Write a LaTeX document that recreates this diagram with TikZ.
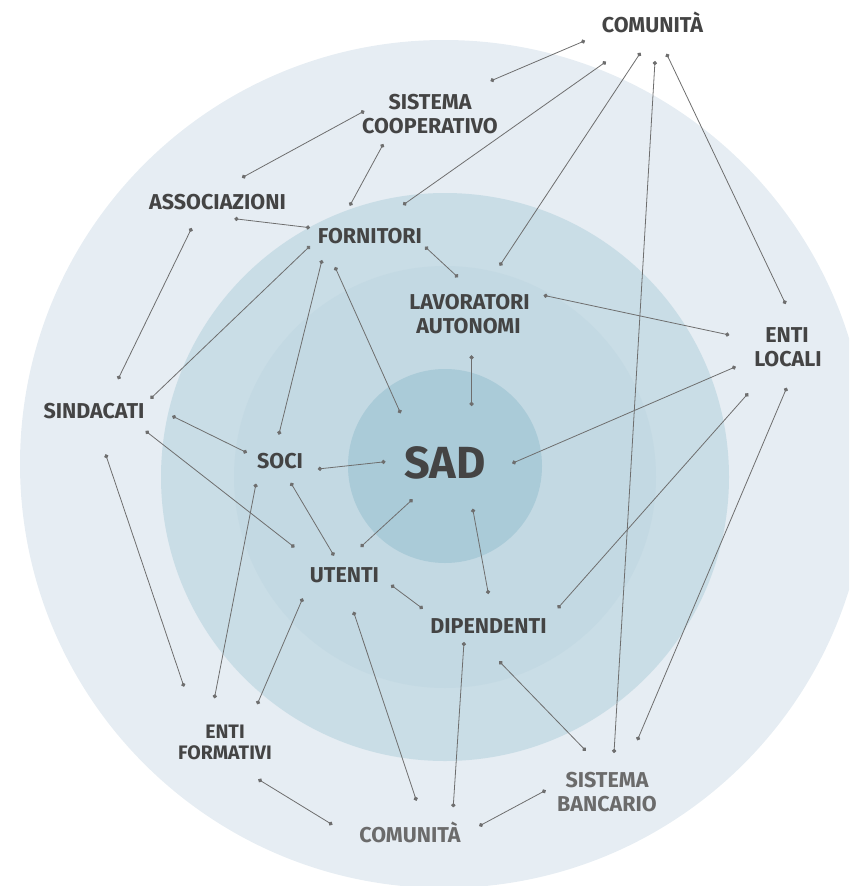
\documentclass[tikz,border=0pt]{standalone}
\usepackage{fontspec}
\setmainfont{Fira Sans}
\usetikzlibrary{arrows.meta}
\definecolor{ringA}{HTML}{E6EDF3}
\definecolor{ringB}{HTML}{C9DDE6}
\definecolor{ringC}{HTML}{C3D9E3}
\definecolor{ringD}{HTML}{AACBD8}
\definecolor{txtdark}{HTML}{444444}
\definecolor{txtlight}{HTML}{6B6B6B}
\definecolor{linecol}{HTML}{6E6E6E}
\tikzset{
  lbl/.style={anchor=base, inner sep=0pt, text=txtdark, font=\bfseries\fontsize{21.5}{24}\selectfont},
  lbllight/.style={lbl, text=txtlight},
  lblsmall/.style={lbl, font=\bfseries\fontsize{19.5}{21}\selectfont},
  link/.style={draw=linecol, line width=0.8pt, {Circle[length=4.2pt]}-{Circle[length=4.2pt]}}
}
\begin{document}
\begin{tikzpicture}[x=1pt,y=-1pt]
\useasboundingbox (0,0) rectangle (849,886);
\begin{scope}
\clip (0,0) rectangle (849,886);
\fill[ringA] (444,464) circle (424);
\fill[ringB] (445,477) circle (284);
\fill[ringC] (445,477) circle (211);
\fill[ringD] (445,466) circle (97);
\end{scope}

% labels
\node[lbl] (comtop) at (652.5,32) {COMUNITÀ};
\node[lbl] (coopA) at (430,109) {SISTEMA};
\node[lbl] (coopB) at (430,133) {COOPERATIVO};
\node[lbl] (assoc) at (217.5,209) {ASSOCIAZIONI};
\node[lbl] (forn) at (370,243) {FORNITORI};
\node[lbl] (lavA) at (469.5,309) {LAVORATORI};
\node[lbl] (lavB) at (468.5,333) {AUTONOMI};
\node[lbl] (entiA) at (787,342) {ENTI};
\node[lbl] (entiB) at (788,366) {LOCALI};
\node[lbl] (sind) at (94,418) {SINDACATI};
\node[lbl] (soci) at (280,468) {SOCI};
\node[lbl, font=\bfseries\fontsize{45}{50}\selectfont] (sad) at (445,478) {SAD};
\node[lbl] (ute) at (344.5,582) {UTENTI};
\node[lbl] (dip) at (488.5,633) {DIPENDENTI};
\node[lblsmall] (formA) at (225,738) {ENTI};
\node[lblsmall] (formB) at (225,759) {FORMATIVI};
\node[lbllight] (bancA) at (607,787) {SISTEMA};
\node[lbllight] (bancB) at (607,811) {BANCARIO};
\node[lbllight] (combot) at (410,842) {COMUNITÀ};

% connector end points
\coordinate (p1a) at (585,40.7);   \coordinate (q1a) at (490.5,81);
\coordinate (p1b) at (606,61.7);   \coordinate (q1b) at (403,205);
\coordinate (p1c) at (640.5,52.7); \coordinate (q1c) at (499.7,265.7);
\coordinate (p1d) at (655,61);     \coordinate (q1d) at (614,753);
\coordinate (p1e) at (666.5,53.7); \coordinate (q1e) at (785.6,304);
\coordinate (p2a) at (364.4,111);  \coordinate (q2a) at (242,177.7);
\coordinate (p2b) at (383.3,144);  \coordinate (q2b) at (349.8,205.7);
\coordinate (p3a) at (234.4,218.7);\coordinate (q3a) at (310,227.7);
\coordinate (p3b) at (191.7,228);  \coordinate (q3b) at (118,379.3);
\coordinate (p4a) at (310,246);    \coordinate (q4a) at (150.5,398.7);
\coordinate (p4b) at (322,260);    \coordinate (q4b) at (278.8,434.7);
\coordinate (p4c) at (335,267);    \coordinate (q4c) at (400.6,413.3);
\coordinate (p4d) at (425,246.7);  \coordinate (q4d) at (458,277.3);
\coordinate (p5a) at (543.6,295.3);\coordinate (q5a) at (729.3,335);
\coordinate (p5b) at (471.6,355.3);\coordinate (q5b) at (471.6,406);
\coordinate (p6a) at (735.8,366.7);\coordinate (q6a) at (512.2,463.3);
\coordinate (p6b) at (748.2,393.3);\coordinate (q6b) at (557.7,608.3);
\coordinate (p6c) at (786.7,387.7);\coordinate (q6c) at (637.3,740.3);
\coordinate (p7a) at (172.2,416);  \coordinate (q7a) at (246.9,452.7);
\coordinate (p7b) at (145.6,431);  \coordinate (q7b) at (294.5,547.3);
\coordinate (p7c) at (105.6,454.3);\coordinate (q7c) at (184,686.7);
\coordinate (p8a) at (317.8,469);  \coordinate (q8a) at (385.5,461.7);
\coordinate (p8b) at (256,483.7);  \coordinate (q8b) at (214.4,698.3);
\coordinate (p8c) at (290.7,482.7);\coordinate (q8c) at (334,555.7);
\coordinate (p9a) at (412.6,499.3);\coordinate (q9a) at (360.6,547);
\coordinate (p9b) at (472.7,508.7);\coordinate (q9b) at (488.4,594);
\coordinate (p10a) at (391,585);   \coordinate (q10a) at (422.8,608.7);
\coordinate (p10b) at (302.7,598.3);\coordinate (q10b) at (257.2,704.3);
\coordinate (p10c) at (353.5,611.7);\coordinate (q10c) at (416.4,800.7);
\coordinate (p11a) at (464,642);   \coordinate (q11a) at (453.2,807.3);
\coordinate (p11b) at (499.2,661.3);\coordinate (q11b) at (585.8,750.7);
\coordinate (p12a) at (258.3,779.3);\coordinate (q12a) at (332.4,824.7);
\coordinate (p13a) at (545.8,790.3);\coordinate (q13a) at (479.2,826);

\foreach \k in {1a,1b,1c,1d,1e,2a,2b,3a,3b,4a,4b,4c,4d,5a,5b,6a,6b,6c,7a,7b,7c,8a,8b,8c,9a,9b,10a,10b,10c,11a,11b,12a,13a}
  \draw[link] (p\k) -- (q\k);
\end{tikzpicture}
\end{document}
